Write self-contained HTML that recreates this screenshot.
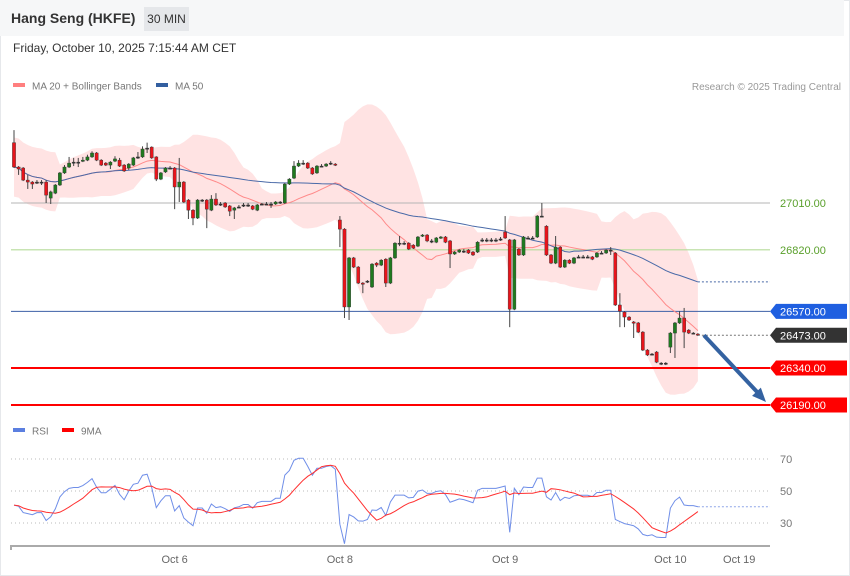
<!DOCTYPE html>
<html><head><meta charset="utf-8">
<style>
body{margin:0;width:850px;height:576px;overflow:hidden;background:#fff;font-family:"Liberation Sans",sans-serif;}
#wrap{position:relative;width:850px;height:576px;}
#border{position:absolute;left:0;top:0;width:850px;height:576px;border:1px solid #e6e8eb;box-sizing:border-box;}
.hdr{position:absolute;left:0;top:0;width:844px;height:36px;background:#f6f7f8;}
.title{position:absolute;left:11px;top:10px;font-size:14px;font-weight:bold;color:#333;}
.tf{position:absolute;left:144px;top:7px;width:45px;height:24px;background:#e5e7ea;font-size:12px;color:#333;line-height:24px;text-align:center;}
.date{position:absolute;left:13px;top:41px;font-size:12px;color:#333;}
svg{position:absolute;left:0;top:0;}
</style></head><body>
<div id="wrap">
<div id="border"></div>
<div class="hdr"></div>
<div class="title">Hang Seng (HKFE)</div>
<div class="tf">30 MIN</div>
<div class="date">Friday, October 10, 2025 7:15:44 AM CET</div>
<svg id="chart" width="850" height="576"></svg>
</div>
<script>
const opens=[27255,27156,27152,27103,27095,27095,27095,27095,27030,27050,27083,27132,27156,27176,27176,27180,27184,27197,27213,27184,27172,27164,27180,27184,27164,27152,27164,27197,27197,27233,27237,27197,27107,27136,27152,27152,27075,27095,27022,26981,26949,27022,27022,26981,27026,27006,27010,26998,26981,26994,27002,27002,26998,26981,27006,27006,27006,27006,27014,27010,27087,27111,27160,27172,27172,27152,27132,27160,27160,27172,27168,26941,26904,26588,26787,26750,26685,26693,26669,26766,26758,26782,26685,26787,26847,26847,26847,26839,26835,26876,26880,26856,26851,26868,26872,26856,26803,26811,26815,26819,26811,26811,26860,26860,26860,26860,26864,26892,26860,26579,26823,26799,26868,26868,26872,26957,26916,26799,26766,26831,26750,26778,26766,26791,26791,26791,26791,26791,26807,26807,26819,26807,26596,26567,26547,26527,26523,26486,26413,26397,26405,26360,26360,26425,26482,26523,26543,26494,26482,26478];
const closes=[27156,27148,27103,27095,27087,27095,27095,27042,27055,27083,27132,27156,27172,27176,27176,27184,27197,27213,27184,27164,27164,27176,27189,27160,27140,27168,27193,27197,27229,27233,27193,27107,27132,27152,27152,27075,27095,27014,26981,26949,27022,27022,26985,27026,27002,27006,26994,26977,26990,26994,27002,27002,26985,27002,27006,27006,27006,27014,27014,27087,27107,27160,27172,27172,27152,27128,27160,27160,27168,27172,27164,26904,26588,26787,26750,26685,26681,26693,26762,26758,26778,26685,26787,26847,26847,26847,26823,26827,26872,26880,26856,26856,26868,26872,26851,26803,26811,26819,26815,26807,26799,26851,26860,26860,26860,26860,26864,26868,26579,26860,26799,26872,26868,26868,26957,26957,26799,26766,26831,26750,26778,26766,26787,26791,26791,26791,26782,26807,26807,26819,26819,26596,26571,26547,26535,26523,26486,26413,26393,26397,26364,26360,26360,26482,26523,26543,26486,26482,26482,26474];
const highs=[27306,27160,27156,27124,27099,27103,27103,27103,27060,27087,27136,27164,27197,27193,27193,27197,27206,27220,27217,27188,27176,27180,27200,27193,27168,27172,27197,27217,27240,27255,27240,27200,27136,27156,27160,27156,27193,27099,27026,26985,27026,27026,27026,27042,27050,27014,27014,27002,26994,27002,27010,27010,27002,27006,27010,27014,27014,27018,27018,27091,27111,27180,27184,27184,27176,27156,27164,27168,27172,27180,27172,26957,26908,26791,26791,26754,26689,26697,26766,26770,26782,26786,26791,26851,26876,26855,26851,26843,26876,26884,26884,26864,26872,26876,26876,26860,26815,26823,26823,26823,26815,26855,26868,26868,26868,26868,26872,26957,26864,26864,26827,26876,26876,26876,26961,27010,26920,26803,26876,26835,26782,26782,26791,26799,26799,26799,26795,26811,26815,26823,26831,26811,26644,26571,26551,26531,26527,26490,26417,26401,26409,26364,26364,26486,26527,26571,26584,26498,26486,26482];
const lows=[27152,27124,27099,27067,27067,27087,27083,27010,27006,27046,27079,27128,27152,27160,27156,27176,27180,27193,27180,27160,27160,27148,27176,27156,27136,27144,27160,27189,27193,27213,27189,27099,27103,27132,27148,26985,27014,27010,26945,26920,26945,27014,26908,26977,26998,26998,26990,26957,26945,26990,26994,26994,26981,26977,27002,27002,26990,27002,27006,27006,27083,27107,27156,27164,27148,27124,27128,27156,27156,27164,27160,26831,26543,26535,26746,26681,26644,26685,26665,26750,26754,26669,26681,26783,26835,26839,26819,26823,26831,26872,26851,26847,26847,26864,26847,26746,26799,26807,26807,26803,26795,26807,26851,26851,26851,26851,26856,26864,26506,26575,26795,26795,26864,26864,26868,26953,26795,26762,26762,26746,26746,26762,26762,26787,26787,26787,26778,26787,26803,26803,26799,26592,26506,26506,26531,26462,26482,26409,26389,26393,26360,26352,26352,26401,26381,26519,26421,26478,26478,26470];
const levels=[27010,26820,26570,26340,26190];
const lastPrice=26473;
const dateLabels=["Oct 6","Oct 8","Oct 9","Oct 10","Oct 19"];
const dateIndex=[35,71,107,143,158];
const rsiTicks=[70,50,30];

const svg=document.getElementById('chart');
const NS='http://www.w3.org/2000/svg';
function mk(tag,attrs,parent){const e=document.createElementNS(NS,tag);for(const k in attrs)e.setAttribute(k,attrs[k]);(parent||svg).appendChild(e);return e;}
const yP=p=>203+(27010-p)*(202/820);
const xI=i=>14+i*4.59;
const yR=v=>491-(v-50)*1.6;

const n=closes.length;
const ma20=[],up=[],lo=[],ma50=[];
for(let i=0;i<n;i++){
  const w=closes.slice(Math.max(0,i-19),i+1);const m=w.reduce((a,b)=>a+b,0)/w.length;
  const sd=Math.sqrt(w.reduce((a,b)=>a+(b-m)*(b-m),0)/w.length);
  const floor=i<10?60:25;
  ma20.push(m);up.push(m+2*Math.max(sd,floor));lo.push(m-2*Math.max(sd,floor));
  const w5=closes.slice(Math.max(0,i-49),i+1);ma50.push(w5.reduce((a,b)=>a+b,0)/w5.length);
}
let d='M'+xI(0)+','+yP(up[0]);
for(let i=1;i<n;i++)d+='L'+xI(i)+','+yP(up[i]);
for(let i=n-1;i>=0;i--)d+='L'+xI(i)+','+yP(lo[i]);
const band=mk('path',{d:d+'Z',fill:'#ffe3e3',stroke:'none'});



const lvlStyle=[['#b5b5b5',1],['#b5dc9a',1.2],['#3c5fa6',1],['#ff0000',2],['#ff0000',2]];
levels.forEach((v,k)=>{
  const l=mk('line',{x1:11,x2:770,y1:yP(v),y2:yP(v),stroke:lvlStyle[k][0],'stroke-width':lvlStyle[k][1]});
  
  
});

function line(arr,yf,color,w,name){
  let p='';arr.forEach((v,i)=>{if(v!=null)p+=(p?'L':'M')+xI(i)+','+yf(v);});
  const e=mk('path',{d:p,fill:'none',stroke:color,'stroke-width':w});
  
  
  return e;
}
line(ma20,yP,'#ff8a8a',1,'ma20-line');
line(ma50,yP,'#4a6aa8',1,'ma50-line');
const ma50ext=mk('line',{x1:xI(n-1),x2:770,y1:yP(ma50[n-1]),y2:yP(ma50[n-1]),stroke:'#4a6aa8','stroke-dasharray':'2,2'});



for(let i=0;i<n;i++){
  const o=opens[i],c=closes[i],x=xI(i);
  const col=c>o?'#1f7a1f':(c<o?'#e8141b':'#333');
  const g=mk('g',{});
  
  
  mk('line',{x1:x,x2:x,y1:yP(highs[i]),y2:yP(lows[i]),stroke:'#444','stroke-width':1},g);
  const top=yP(Math.max(o,c)),h=Math.max(1.2,yP(Math.min(o,c))-top);
  mk('rect',{x:x-1.6,y:top,width:3.2,height:h,fill:col,stroke:'#333','stroke-width':0.4},g);
}
const lp=mk('line',{x1:xI(n-1),x2:770,y1:yP(lastPrice),y2:yP(lastPrice),stroke:'#777','stroke-dasharray':'2,2'});


const ar=mk('g',{});


const ax1=xI(n-1)+6,ay1=yP(lastPrice),ax2=766,ay2=yP(levels[4])-3;
mk('line',{x1:ax1,y1:ay1,x2:ax2-7,y2:ay2-8,stroke:'#3462a1','stroke-width':4},ar);
const ang=Math.atan2(ay2-ay1,ax2-ax1);
const pts=[[ax2,ay2],[ax2-14*Math.cos(ang)+6*Math.sin(ang),ay2-14*Math.sin(ang)-6*Math.cos(ang)],[ax2-14*Math.cos(ang)-6*Math.sin(ang),ay2-14*Math.sin(ang)+6*Math.cos(ang)]];
mk('polygon',{points:pts.map(p=>p.join(',')).join(' '),fill:'#3462a1'},ar);

function tag(v,bg,fg,name){
  const y=yP(v);const g=mk('g',{});
  
  
  if(bg){mk('polygon',{points:`770,${y} 776,${y-7.5} 847,${y-7.5} 847,${y+7.5} 776,${y+7.5}`,fill:bg},g);}
  const t=mk('text',{x:780,y:y+4,'font-size':11,fill:fg},g);t.textContent=v.toFixed(2);
}
tag(levels[0],null,'#5aa02c','label-27010');
tag(levels[1],null,'#5aa02c','label-26820');
tag(levels[2],'#1f5fe0','#fff','label-26570');
tag(lastPrice,'#333333','#fff','label-last-price');
tag(levels[3],'#ff0000','#fff','label-26340');
tag(levels[4],'#ff0000','#fff','label-26190');

function legend(x,y,color,text,name){
  const g=mk('g',{});
  
  
  mk('rect',{x:x,y:y-3,width:12,height:4,fill:color},g);
  const t=mk('text',{x:x+19,y:y+3.5,'font-size':10,fill:'#777'},g);t.textContent=text;
}
legend(13,86,'#ff7f7f','MA 20 + Bollinger Bands','legend-ma20');
legend(156,86,'#335fa0','MA 50','legend-ma50');
legend(13,431,'#5b7fe0','RSI','legend-rsi');
legend(62,431,'#ff0000','9MA','legend-9ma');
const cr=mk('text',{x:841,y:90,'font-size':10,fill:'#999','text-anchor':'end'});cr.textContent='Research © 2025 Trading Central';



// RSI (Wilder, seeded to avoid start-up spikes)
const rsi=[];let ag=14,al=20;
for(let i=0;i<n;i++){
  if(i>0){
    const ch=closes[i]-closes[i-1];const g=Math.max(ch,0),l=Math.max(-ch,0);
    ag=(ag*13+g)/14;al=(al*13+l)/14;
  }
  rsi.push(al===0?70:100-100/(1+ag/al));
}
const rsiMa=rsi.map((v,i)=>{const w=rsi.slice(Math.max(0,i-8),i+1);return w.reduce((a,b)=>a+b,0)/w.length;});
rsiTicks.forEach(v=>{
  const l=mk('line',{x1:11,x2:770,y1:yR(v),y2:yR(v),stroke:'#bbb','stroke-dasharray':'1,3'});
  
  
  const t=mk('text',{x:780,y:yR(v)+4,'font-size':11,fill:'#777'});t.textContent=v;
  
  
});
const rext=mk('line',{x1:xI(n-1),x2:770,y1:yR(rsi[n-1]),y2:yR(rsi[n-1]),stroke:'#8fa6e8','stroke-dasharray':'2,2'});


line(rsi,yR,'#6f8ee8',1,'rsi-line');
line(rsiMa,yR,'#ff3030',1,'rsi-9ma-line');

const xa=mk('path',{d:'M11,550V546H770',fill:'none',stroke:'#aaa','stroke-width':2});


dateLabels.forEach((s,k)=>{
  const t=mk('text',{x:xI(dateIndex[k]),y:563,'font-size':11,fill:'#666','text-anchor':'middle'});t.textContent=s;
  
  
});
</script>
</body></html>
